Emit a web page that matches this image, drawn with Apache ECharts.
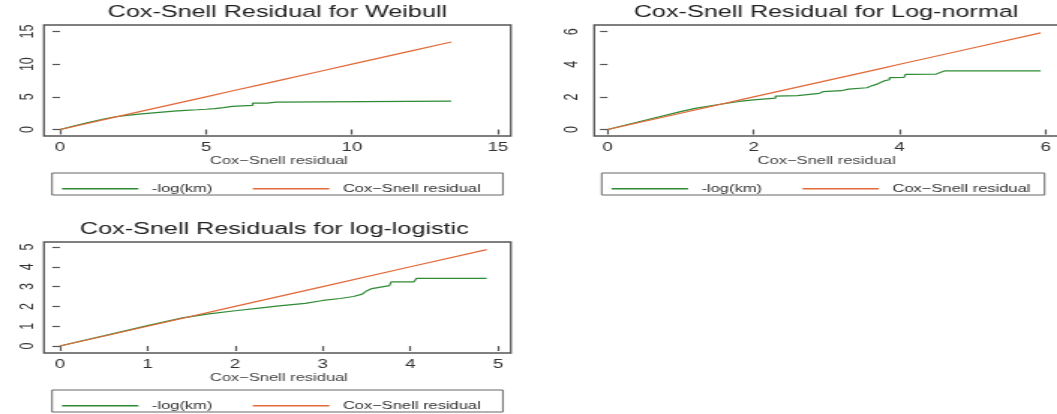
<!DOCTYPE html>
<html>
<head>
<meta charset="utf-8">
<script src="https://cdn.jsdelivr.net/npm/echarts@6/dist/echarts.min.js"></script>
<style>
  html, body { margin: 0; padding: 0; background: #fff; overflow: hidden; }
  #wrap { width: 1057px; height: 414px; overflow: hidden; }
  #main { width: 705px; height: 414px; transform: scaleX(1.4993); transform-origin: 0 0; }
</style>
</head>
<body>
<div id="wrap"><div id="main"></div></div>
<script>
// ---------------- DATA ----------------
const titles = ['Cox-Snell Residual for Weibull', 'Cox-Snell Residual for Log-normal', 'Cox-Snell Residuals for log-logistic'];
const xAxisName = 'Cox\u2212Snell residual';
const kmName = '-log(km)';
const csName = 'Cox\u2212Snell residual';

// Weibull: Cox-Snell residual (plotted against itself) and -log(KM) of it
const weibullResid = [0, 1, 2, 3, 4, 5, 6, 6.8, 7.6, 9, 10, 11, 12, 13.4];
const weibullKMx = [0, 0.5, 1.0, 1.5, 1.9, 2.3, 2.7, 3.1, 3.5, 3.9, 4.3, 4.7, 5.0, 5.3, 5.6, 5.9, 6.6, 6.6, 7.1, 7.1, 7.4, 7.4, 13.4];
const weibullKMy = [0, 0.55, 1.1, 1.6, 1.95, 2.15, 2.35, 2.5, 2.65, 2.8, 2.92, 3.02, 3.1, 3.2, 3.35, 3.55, 3.7, 4.05, 4.05, 4.2, 4.2, 4.35, 4.35];
const weibullXTicks = [0, 15, 5];   // min, max, step
const weibullYTicks = [0, 15, 5];

// Log-normal
const lognormResid = [0, 1, 2, 3, 3.8, 4, 5, 5.93];
const lognormKMx = [0, 0.5, 1.0, 1.2, 1.5, 1.8, 2.0, 2.3, 2.3, 2.6, 2.6, 2.9, 2.95, 3.2, 3.3, 3.55, 3.6, 3.7, 3.8, 3.86, 3.86, 4.06, 4.08, 4.5, 4.62, 5.93];
const lognormKMy = [0, 0.55, 1.1, 1.3, 1.52, 1.72, 1.82, 1.92, 2.05, 2.08, 2.18, 2.22, 2.32, 2.38, 2.48, 2.56, 2.65, 2.8, 3.0, 3.05, 3.18, 3.2, 3.38, 3.4, 3.6, 3.6];
const lognormXTicks = [0, 6, 2];
const lognormYTicks = [0, 6, 2];

// Log-logistic
const loglogResid = [0, 1, 2, 3, 4, 4.87];
const loglogKMx = [0, 0.5, 1.0, 1.4, 1.7, 2.0, 2.3, 2.5, 2.8, 3.0, 3.2, 3.35, 3.45, 3.5, 3.56, 3.57, 3.76, 3.78, 4.04, 4.07, 4.87];
const loglogKMy = [0, 0.51, 1.03, 1.42, 1.62, 1.78, 1.93, 2.03, 2.15, 2.3, 2.4, 2.5, 2.62, 2.78, 2.9, 3.0, 3.05, 3.24, 3.24, 3.42, 3.42];
const loglogXTicks = [0, 5, 1];
const loglogYTicks = [0, 5, 1];

// ---------------- LAYOUT ----------------
const FONT = 'Liberation Sans, Arial, sans-serif';
const GREEN = '#2f8a35';
const ORANGE = '#e2693a';
const AXC = '#555';

const panels = [
  { grid: { left: 40.0, top: 31.5, width: 292.1, height: 98 },
    box: { x: 29.3, y: 25, w: 311.4, h: 111 }, xOff: 6.5, yOff: 10.7, ym: 4,
    xt: weibullXTicks, yt: weibullYTicks,
    resid: weibullResid, kx: weibullKMx, ky: weibullKMy,
    title: { x: 185, y: 4 }, legBox: { x: 34.7, y: 173, w: 300.7, h: 22 } },
  { grid: { left: 405.2, top: 31.7, width: 292.3, height: 97.8 },
    box: { x: 396.3, y: 25, w: 311.3, h: 111 }, xOff: 6.5, yOff: 8.9, ym: 8,
    xt: lognormXTicks, yt: lognormYTicks,
    resid: lognormResid, kx: lognormKMx, ky: lognormKMy,
    title: { x: 551, y: 4 }, legBox: { x: 401.3, y: 173, w: 295.4, h: 22 } },
  { grid: { left: 39.9, top: 247, width: 292.3, height: 99 },
    box: { x: 29.3, y: 242, w: 311.4, h: 111 }, xOff: 7, yOff: 10.6, ym: 4,
    xt: loglogXTicks, yt: loglogYTicks,
    resid: loglogResid, kx: loglogKMx, ky: loglogKMy,
    title: { x: 183, y: 221 }, legBox: { x: 34.7, y: 390, w: 300.7, h: 22 } }
];

const option = {
  animation: false,
  backgroundColor: '#fff',
  textStyle: { fontFamily: FONT },
  title: [], grid: [], xAxis: [], yAxis: [], series: [], legend: [], graphic: []
};

panels.forEach((p, i) => {
  option.title.push({
    text: titles[i], left: p.title.x, top: p.title.y, textAlign: 'center', padding: 0,
    textStyle: { fontFamily: FONT, fontSize: 16.8, fontWeight: 'normal', color: '#222' }
  });
  option.grid.push(Object.assign({ show: false }, p.grid));
  option.xAxis.push({
    type: 'value', gridIndex: i, min: p.xt[0], max: p.xt[1], interval: p.xt[2],
    offset: p.xOff,
    axisLine: { show: false },
    axisTick: { show: true, inside: false, length: 5, lineStyle: { color: AXC, width: 1.2 } },
    axisLabel: { show: true, margin: 5, fontSize: 12.5, color: '#333', fontFamily: FONT },
    splitLine: { show: false },
    name: xAxisName, nameLocation: 'middle', nameGap: 19.5,
    nameTextStyle: { fontSize: 11, color: '#444', fontFamily: FONT }
  });
  option.yAxis.push({
    type: 'value', gridIndex: i, min: p.yt[0], max: p.yt[1], interval: p.yt[2],
    offset: p.yOff,
    axisLine: { show: false },
    axisTick: { show: true, inside: false, length: 5, lineStyle: { color: AXC, width: 1.2 } },
    axisLabel: { show: true, rotate: 90, margin: p.ym, fontSize: 12.5, color: '#333', fontFamily: FONT },
    splitLine: { show: false }
  });
  option.series.push({
    name: kmName, type: 'line', xAxisIndex: i, yAxisIndex: i,
    symbol: 'none', lineStyle: { color: GREEN, width: 1.2 }, itemStyle: { color: GREEN },
    data: p.kx.map((x, k) => [x, p.ky[k]])
  });
  option.series.push({
    name: csName, type: 'line', xAxisIndex: i, yAxisIndex: i,
    symbol: 'none', lineStyle: { color: ORANGE, width: 1.2 }, itemStyle: { color: ORANGE },
    data: p.resid.map(v => [v, v])
  });
  option.legend.push({
    left: p.legBox.x + 6.6, top: p.legBox.y + p.legBox.h / 2 - 0.75, padding: 0,
    icon: 'rect', itemWidth: 51, itemHeight: 1.5, itemGap: 27, selectedMode: false,
    textStyle: { fontSize: 11, color: '#333', fontFamily: FONT, padding: [0, 0, 0, 4] },
    data: [kmName, csName]
  });
  option.graphic.push({
    type: 'rect', silent: true,
    shape: { x: p.box.x, y: p.box.y, width: p.box.w, height: p.box.h },
    style: { fill: 'none', stroke: AXC, lineWidth: 1.3 }
  });
  option.graphic.push({
    type: 'rect', silent: true,
    shape: { x: p.legBox.x, y: p.legBox.y, width: p.legBox.w, height: p.legBox.h },
    style: { fill: 'none', stroke: '#666', lineWidth: 1 }
  });
});

const chart = echarts.init(document.getElementById('main'), null, { renderer: 'canvas' });
chart.setOption(option);
</script>
</body>
</html>
